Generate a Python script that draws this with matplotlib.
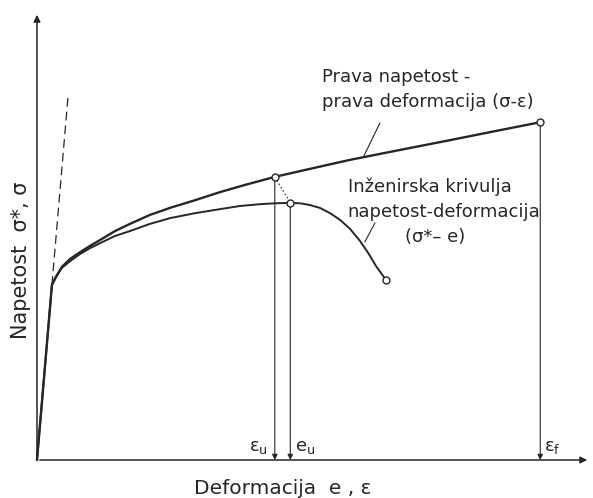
import matplotlib.pyplot as plt

# strain / stress, arbitrary units (0..1 on both axes)
true_eps = [0.0, 0.027, 0.034, 0.045, 0.060, 0.078, 0.096, 0.114, 0.141, 0.168, 0.204,
            0.241, 0.286, 0.331, 0.376, 0.430, 0.494, 0.566, 0.656, 0.747, 0.828, 0.910]
true_sig = [0.0, 0.391, 0.408, 0.431, 0.449, 0.464, 0.478, 0.491, 0.511, 0.527, 0.547,
            0.563, 0.580, 0.598, 0.614, 0.632, 0.650, 0.670, 0.692, 0.714, 0.734, 0.754]

eng_e = [0.0, 0.027, 0.034, 0.045, 0.060, 0.078, 0.096, 0.114, 0.141, 0.168, 0.204,
         0.241, 0.286, 0.331, 0.367, 0.403, 0.430, 0.458, 0.476, 0.494, 0.512, 0.530,
         0.548, 0.566, 0.584, 0.599, 0.613, 0.631]
eng_s = [0.0, 0.391, 0.408, 0.429, 0.444, 0.460, 0.473, 0.484, 0.500, 0.511, 0.527,
         0.540, 0.551, 0.560, 0.567, 0.571, 0.573, 0.574, 0.573, 0.569, 0.5625, 0.551,
         0.536, 0.516, 0.489, 0.462, 0.433, 0.402]

# elastic slope extension
elastic_e = [0.027, 0.056]
elastic_s = [0.391, 0.810]

# marked points: eps_u, e_u, eps_f, fracture of engineering curve
eps_u = (0.430, 0.632)
e_u = (0.458, 0.574)
eps_f = (0.910, 0.754)
eng_end = (0.631, 0.402)

ink = '#262626'

fig = plt.figure(figsize=(5.93, 4.98), dpi=100)
ax = fig.add_axes([0, 0, 1, 1])
ax.set_xlim(-0.0669, 1.0054)
ax.set_ylim(-0.0848, 1.0268)
ax.axis('off')

# axes with arrow heads
ax.annotate('', xy=(0, 1.0), xytext=(0, 0),
            arrowprops=dict(arrowstyle='-|>', color=ink, lw=1.1, mutation_scale=10))
ax.annotate('', xy=(1.0, 0), xytext=(0, 0),
            arrowprops=dict(arrowstyle='-|>', color=ink, lw=1.1, mutation_scale=10))

ax.plot(true_eps, true_sig, color=ink, lw=1.7, solid_capstyle='round', solid_joinstyle='round')
ax.plot(eng_e, eng_s, color=ink, lw=1.4, solid_capstyle='round', solid_joinstyle='round')
ax.plot(elastic_e, elastic_s, color=ink, lw=0.9, ls=(0, (7, 4)))

# dotted link between the two necking points
ax.plot([eps_u[0], e_u[0]], [eps_u[1], e_u[1]], color=ink, lw=0.8, ls=(0, (1.5, 2)))

# drop lines to the strain axis
for px, py in [eps_u, e_u, eps_f]:
    ax.annotate('', xy=(px, 0.0), xytext=(px, py),
                arrowprops=dict(arrowstyle='-|>', color=ink, lw=0.8,
                                mutation_scale=8, shrinkA=2, shrinkB=0))

for px, py in [eps_u, e_u, eps_f, eng_end]:
    ax.plot(px, py, 'o', ms=5, mfc='white', mec=ink, mew=1.0, zorder=5)

# leader lines for the curve labels
ax.plot([0.620, 0.590], [0.752, 0.676], color=ink, lw=0.8)
ax.plot([0.611, 0.593], [0.529, 0.487], color=ink, lw=0.8)

fs = 13
ax.text(0.515, 0.855, 'Prava napetost -', fontsize=fs, color=ink, va='center')
ax.text(0.515, 0.799, 'prava deformacija (σ-ε)', fontsize=fs, color=ink, va='center')
ax.text(0.562, 0.609, 'Inženirska krivulja', fontsize=fs, color=ink, va='center')
ax.text(0.562, 0.554, 'napetost-deformacija', fontsize=fs, color=ink, va='center')
ax.text(0.665, 0.498, '(σ*– e)', fontsize=fs, color=ink, va='center')

ax.text(0.418, 0.029, 'ε$_{\\mathregular{u}}$', fontsize=13, color=ink, ha='right', va='center')
ax.text(0.466, 0.029, 'e$_{\\mathregular{u}}$', fontsize=13, color=ink, ha='left', va='center')
ax.text(0.917, 0.029, 'ε$_{\\mathregular{f}}$', fontsize=13, color=ink, ha='left', va='center')

ax.text(0.445, -0.0625, 'Deformacija  e , ε', fontsize=14.5, color=ink, ha='center', va='center')
ax.text(-0.029, 0.446, 'Napetost  σ*, σ', fontsize=15, color=ink, ha='center', va='center',
        rotation=90)

fig.savefig('out.png', dpi=100, facecolor='white')
